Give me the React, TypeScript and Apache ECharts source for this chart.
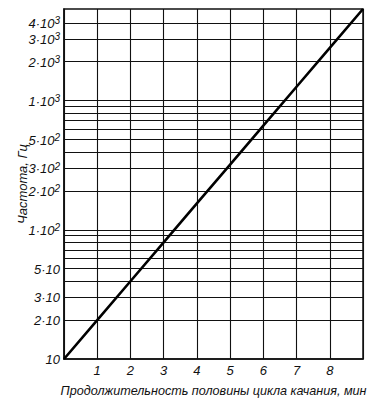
import React, { useEffect, useRef } from "react";
import * as echarts from "echarts";

const durations = [0, 1, 2, 3, 4, 5, 6, 7, 8, 9];
const frequencies = [10, 20, 40, 80, 160, 320, 640, 1280, 2560, 5120];
const yLabelValues = [10, 20, 30, 50, 100, 200, 300, 500, 1000, 2000, 3000, 4000];
const yGridValues = [
  20, 30, 40, 50, 60, 70, 80, 90, 100,
  200, 300, 400, 500, 600, 700, 800, 900, 1000,
  2000, 3000, 4000,
];
const xTickLabels = ["1", "2", "3", "4", "5", "6", "7", "8"];

const FONT = "Liberation Sans";

function fmtY(v: number): string {
  const r = Math.round(v);
  if (r === 10) return "{b|10}";
  const exp = Math.floor(Math.log10(r) + 1e-9);
  const mant = Math.round(r / Math.pow(10, exp));
  if (exp === 1) return `{b|${mant}·10}`;
  return `{b|${mant}·10}{s|${exp}}`;
}

export default function App() {
  const ref = useRef<HTMLDivElement>(null);
  useEffect(() => {
    if (!ref.current) return;
    const chart = echarts.init(ref.current, null, { renderer: "svg" });
    chart.setOption({
      animation: false,
      backgroundColor: "#ffffff",
      grid: {
        left: 64,
        right: 16,
        top: 9,
        bottom: 39,
        show: true,
        borderColor: "#111",
        borderWidth: 1.5,
        containLabel: false,
        outerBoundsMode: "none",
      },
      xAxis: {
        type: "value",
        min: 0,
        max: 9,
        interval: 1,
        name: "Продолжительность половины цикла качания, мин",
        nameLocation: "middle",
        nameGap: 25,
        nameMoveOverlap: false,
        nameTextStyle: { fontFamily: FONT, fontStyle: "italic", fontSize: 12.6, color: "#111" },
        axisLine: { show: true, lineStyle: { color: "#111", width: 1.5 } },
        axisTick: { show: false },
        splitLine: { show: true, lineStyle: { color: "#111", width: 1.1 } },
        axisLabel: {
          fontFamily: FONT,
          fontStyle: "italic",
          fontSize: 13,
          color: "#111",
          margin: 5,
          formatter: (v: number) => {
            const i = Math.round(v);
            return i >= 1 && i <= xTickLabels.length ? xTickLabels[i - 1] : "";
          },
        },
      },
      yAxis: {
        type: "log",
        logBase: 10,
        min: 10,
        max: 5120,
        name: "Частота, Гц",
        nameLocation: "middle",
        nameGap: 35,
        nameMoveOverlap: false,
        nameTextStyle: { fontFamily: FONT, fontStyle: "italic", fontSize: 13, color: "#111" },
        axisLine: { show: true, lineStyle: { color: "#111", width: 1.5 } },
        axisTick: { show: false },
        splitLine: { show: false },
        axisLabel: {
          customValues: yLabelValues,
          margin: 4,
          hideOverlap: false,
          showMinLabel: true,
          showMaxLabel: true,
          formatter: (v: number) => fmtY(v),
          rich: {
            b: { fontFamily: FONT, fontStyle: "italic", fontSize: 13, color: "#111", verticalAlign: "bottom", lineHeight: 14 },
            s: { fontFamily: FONT, fontStyle: "italic", fontSize: 10, color: "#111", verticalAlign: "top", lineHeight: 14 },
          },
        },
      },
      series: [
        {
          type: "line",
          data: durations.map((d, i) => [d, frequencies[i]]),
          symbol: "none",
          lineStyle: { color: "#000", width: 2.6 },
          z: 5,
          markLine: {
            silent: true,
            symbol: "none",
            label: { show: false },
            lineStyle: { color: "#111", width: 1.1, type: "solid" },
            data: yGridValues.map((v) => ({ yAxis: v })),
          },
        },
      ],
    });
    return () => chart.dispose();
  }, []);
  return <div ref={ref} style={{ width: 379, height: 398, marginLeft: -8, marginTop: -8 }} />;
}
